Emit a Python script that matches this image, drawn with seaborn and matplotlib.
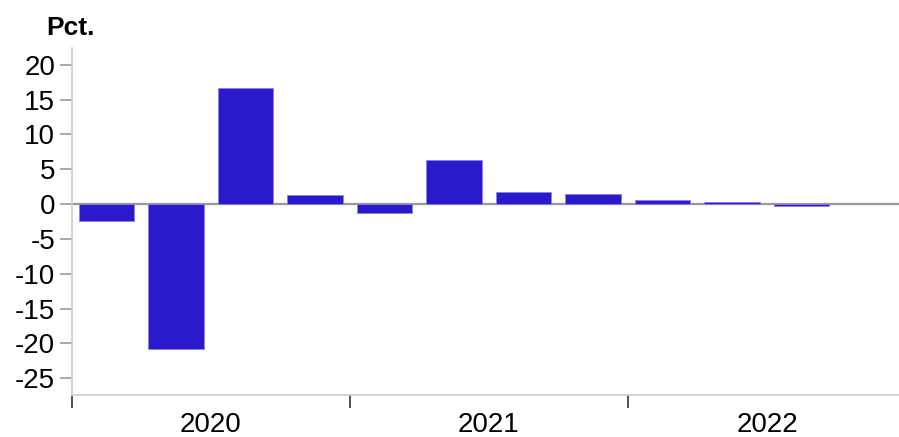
import numpy as np
import pandas as pd
import matplotlib.pyplot as plt
import seaborn as sns

# quarterly change, pct.
quarters = ['2020K1', '2020K2', '2020K3', '2020K4',
            '2021K1', '2021K2', '2021K3', '2021K4',
            '2022K1', '2022K2', '2022K3', '2022K4']
values = [-2.4, -20.8, 16.6, 1.3,
          -1.3, 6.3, 1.7, 1.5,
          0.65, 0.3, -0.25, np.nan]
years = ['2020', '2021', '2022']

df = pd.DataFrame({'quarter': quarters, 'value': values})

sns.set_style('white')
plt.rcParams['font.family'] = ['Liberation Sans', 'DejaVu Sans']
plt.rcParams['axes.unicode_minus'] = False
plt.rcParams['text.color'] = 'black'
plt.rcParams['xtick.labelcolor'] = 'black'
plt.rcParams['ytick.labelcolor'] = 'black'

fig = plt.figure(figsize=(8.99, 4.37), dpi=100)
ax = fig.add_axes([0.080, 0.096, 0.920, 0.794])

ax.axhline(0, color='#999999', lw=1.6, zorder=0.5)

sns.barplot(data=df, x='quarter', y='value', color='#2b19cc', saturation=1,
            width=0.8, edgecolor='#8c82e6', linewidth=0.6, ax=ax, zorder=2)

ax.set_ylim(-27.4, 22.4)
ax.set_xlim(-0.5, 11.4)
ax.set_yticks(np.arange(-25, 21, 5))
ax.tick_params(axis='y', length=9, width=1.2, color='#999999', labelsize=20,
               left=True, pad=3)

# year labels centred, ticks at year boundaries
ax.set_xticks([1.5, 5.5, 9.5])
ax.set_xticklabels(years, fontsize=20)
ax.tick_params(axis='x', which='major', length=0, pad=12)
ax.set_xticks([-0.5, 3.5, 7.5], minor=True)
ax.tick_params(axis='x', which='minor', length=9, width=1.2, color='#333333',
               bottom=True)

ax.set_xlabel('')
ax.set_ylabel('')
for s in ['top', 'right']:
    ax.spines[s].set_visible(False)
for s in ['left', 'bottom']:
    ax.spines[s].set_color('#cccccc')
    ax.spines[s].set_linewidth(1.2)

fig.text(0.052, 0.935, 'Pct.', fontsize=19, fontweight='bold', va='center')

fig.savefig('out.png', dpi=100)
